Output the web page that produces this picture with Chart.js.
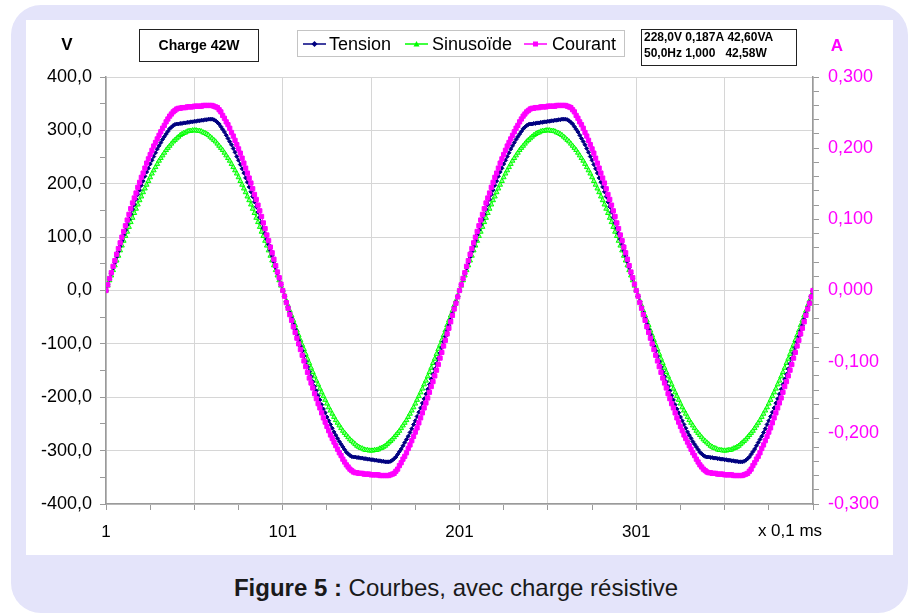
<!DOCTYPE html>
<html>
<head>
<meta charset="utf-8">
<script src="https://cdn.jsdelivr.net/npm/chart.js@4.4.1/dist/chart.umd.min.js"></script>
<style>
  html, body { margin: 0; padding: 0; background: #fff; }
  #frame { position: absolute; left: 11px; top: 5px; width: 897px; height: 608px; background: #e4e4fa; border-radius: 30px; }
  #panel { position: absolute; left: 26px; top: 20px; width: 867px; height: 535px; background: #fff; }
  #caption { position: absolute; left: 0; top: 574px; width: 912px; text-align: center;
             font: 24px "Liberation Sans", Arial, sans-serif; color: #1a1a1a; }
  #chart { position: absolute; left: 0; top: 0; }
</style>
</head>
<body>
<div id="frame"></div>
<div id="panel"></div>
<div id="caption"><b>Figure 5 :</b> Courbes, avec charge résistive</div>
<canvas id="chart" width="912" height="614"></canvas>
<script>
// x axis: sample index, 1 sample = 0.1 ms
var X_LABELS = [1, 101, 201, 301];

// Tension (V)
var TENSION = [0,
  11,21,32,42,52,63,73,83,93,104,113,123,133,143,152,161,171,180,188,197,205,214,222,229,237,
  244,251,258,265,271,277,283,288,293,298,303,306,309,311,312,312,313,313,314,314,315,315,316,316,317,
  317,318,318,319,319,320,320,321,321,321,320,318,315,312,307,302,297,291,285,279,273,266,259,251,244,
  236,228,220,211,203,194,185,176,166,157,147,137,127,117,107,96,86,75,65,54,43,32,22,11,0,
  -11,-21,-32,-42,-52,-63,-73,-83,-93,-104,-113,-123,-133,-143,-152,-161,-171,-180,-188,-197,-205,-214,-222,-229,-237,
  -244,-251,-258,-265,-271,-277,-283,-288,-293,-298,-303,-306,-309,-311,-312,-312,-313,-313,-314,-314,-315,-315,-316,-316,-317,
  -317,-318,-318,-319,-319,-320,-320,-321,-321,-321,-320,-318,-315,-312,-307,-302,-297,-291,-285,-279,-273,-266,-259,-251,-244,
  -236,-228,-220,-211,-203,-194,-185,-176,-166,-157,-147,-137,-127,-117,-107,-96,-86,-75,-65,-54,-43,-32,-22,-11,0,
  11,21,32,42,52,63,73,83,93,104,113,123,133,143,152,161,171,180,188,197,205,214,222,229,237,
  244,251,258,265,271,277,283,288,293,298,303,306,309,311,312,312,313,313,314,314,315,315,316,316,317,
  317,318,318,319,319,320,320,321,321,321,320,318,315,312,307,302,297,291,285,279,273,266,259,251,244,
  236,228,220,211,203,194,185,176,166,157,147,137,127,117,107,96,86,75,65,54,43,32,22,11,0,
  -11,-21,-32,-42,-52,-63,-73,-83,-93,-104,-113,-123,-133,-143,-152,-161,-171,-180,-188,-197,-205,-214,-222,-229,-237,
  -244,-251,-258,-265,-271,-277,-283,-288,-293,-298,-303,-306,-309,-311,-312,-312,-313,-313,-314,-314,-315,-315,-316,-316,-317,
  -317,-318,-318,-319,-319,-320,-320,-321,-321,-321,-320,-318,-315,-312,-307,-302,-297,-291,-285,-279,-273,-266,-259,-251,-244,
  -236,-228,-220,-211,-203,-194,-185,-176,-166,-157,-147,-137,-127,-117,-107,-96,-86,-75,-65,-54,-43,-32,-22,-11,0
];

// Sinusoïde de référence (V), green curve
var SINUSOIDE = [0,
  9,19,28,38,47,56,65,75,84,93,102,110,119,128,136,145,153,161,169,176,184,191,198,205,212,
  219,225,231,237,243,248,253,258,263,267,271,275,279,282,285,288,291,293,295,296,298,299,299,300,300,
  300,299,299,298,296,295,293,291,288,285,282,279,275,271,267,263,258,253,248,243,237,231,225,219,212,
  205,198,191,184,176,169,161,153,145,136,128,119,110,102,93,84,75,65,56,47,38,28,19,9,0,
  -9,-19,-28,-38,-47,-56,-65,-75,-84,-93,-102,-110,-119,-128,-136,-145,-153,-161,-169,-176,-184,-191,-198,-205,-212,
  -219,-225,-231,-237,-243,-248,-253,-258,-263,-267,-271,-275,-279,-282,-285,-288,-291,-293,-295,-296,-298,-299,-299,-300,-300,
  -300,-299,-299,-298,-296,-295,-293,-291,-288,-285,-282,-279,-275,-271,-267,-263,-258,-253,-248,-243,-237,-231,-225,-219,-212,
  -205,-198,-191,-184,-176,-169,-161,-153,-145,-136,-128,-119,-110,-102,-93,-84,-75,-65,-56,-47,-38,-28,-19,-9,0,
  9,19,28,38,47,56,65,75,84,93,102,110,119,128,136,145,153,161,169,176,184,191,198,205,212,
  219,225,231,237,243,248,253,258,263,267,271,275,279,282,285,288,291,293,295,296,298,299,299,300,300,
  300,299,299,298,296,295,293,291,288,285,282,279,275,271,267,263,258,253,248,243,237,231,225,219,212,
  205,198,191,184,176,169,161,153,145,136,128,119,110,102,93,84,75,65,56,47,38,28,19,9,0,
  -9,-19,-28,-38,-47,-56,-65,-75,-84,-93,-102,-110,-119,-128,-136,-145,-153,-161,-169,-176,-184,-191,-198,-205,-212,
  -219,-225,-231,-237,-243,-248,-253,-258,-263,-267,-271,-275,-279,-282,-285,-288,-291,-293,-295,-296,-298,-299,-299,-300,-300,
  -300,-299,-299,-298,-296,-295,-293,-291,-288,-285,-282,-279,-275,-271,-267,-263,-258,-253,-248,-243,-237,-231,-225,-219,-212,
  -205,-198,-191,-184,-176,-169,-161,-153,-145,-136,-128,-119,-110,-102,-93,-84,-75,-65,-56,-47,-38,-28,-19,-9,0
];

// Courant (A), magenta curve on the right axis
var COURANT = [0,
  0.008,0.017,0.025,0.034,0.042,0.051,0.059,0.067,0.075,0.083,0.091,0.099,0.107,0.115,0.123,0.130,0.137,0.145,0.152,0.159,0.165,0.172,0.179,0.185,0.191,
  0.197,0.203,0.208,0.213,0.218,0.223,0.228,0.232,0.237,0.241,0.245,0.248,0.251,0.253,0.255,0.256,0.256,0.257,0.257,0.257,0.258,0.258,0.258,0.258,0.259,
  0.259,0.259,0.259,0.259,0.260,0.260,0.260,0.260,0.260,0.260,0.259,0.258,0.257,0.254,0.251,0.246,0.242,0.237,0.233,0.228,0.222,0.217,0.211,0.205,0.199,
  0.193,0.186,0.179,0.172,0.165,0.158,0.151,0.143,0.135,0.128,0.120,0.112,0.104,0.095,0.087,0.078,0.070,0.061,0.053,0.044,0.035,0.026,0.018,0.009,0.000,
  -0.008,-0.017,-0.025,-0.034,-0.042,-0.051,-0.059,-0.067,-0.075,-0.083,-0.091,-0.099,-0.107,-0.115,-0.123,-0.130,-0.137,-0.145,-0.152,-0.159,-0.165,-0.172,-0.179,-0.185,-0.191,
  -0.197,-0.203,-0.208,-0.213,-0.218,-0.223,-0.228,-0.232,-0.237,-0.241,-0.245,-0.248,-0.251,-0.253,-0.255,-0.256,-0.256,-0.257,-0.257,-0.257,-0.258,-0.258,-0.258,-0.258,-0.259,
  -0.259,-0.259,-0.259,-0.259,-0.260,-0.260,-0.260,-0.260,-0.260,-0.260,-0.259,-0.258,-0.257,-0.254,-0.251,-0.246,-0.242,-0.237,-0.233,-0.228,-0.222,-0.217,-0.211,-0.205,-0.199,
  -0.193,-0.186,-0.179,-0.172,-0.165,-0.158,-0.151,-0.143,-0.135,-0.128,-0.120,-0.112,-0.104,-0.095,-0.087,-0.078,-0.070,-0.061,-0.053,-0.044,-0.035,-0.026,-0.018,-0.009,0.000,
  0.008,0.017,0.025,0.034,0.042,0.051,0.059,0.067,0.075,0.083,0.091,0.099,0.107,0.115,0.123,0.130,0.137,0.145,0.152,0.159,0.165,0.172,0.179,0.185,0.191,
  0.197,0.203,0.208,0.213,0.218,0.223,0.228,0.232,0.237,0.241,0.245,0.248,0.251,0.253,0.255,0.256,0.256,0.257,0.257,0.257,0.258,0.258,0.258,0.258,0.259,
  0.259,0.259,0.259,0.259,0.260,0.260,0.260,0.260,0.260,0.260,0.259,0.258,0.257,0.254,0.251,0.246,0.242,0.237,0.233,0.228,0.222,0.217,0.211,0.205,0.199,
  0.193,0.186,0.179,0.172,0.165,0.158,0.151,0.143,0.135,0.128,0.120,0.112,0.104,0.095,0.087,0.078,0.070,0.061,0.053,0.044,0.035,0.026,0.018,0.009,0.000,
  -0.008,-0.017,-0.025,-0.034,-0.042,-0.051,-0.059,-0.067,-0.075,-0.083,-0.091,-0.099,-0.107,-0.115,-0.123,-0.130,-0.137,-0.145,-0.152,-0.159,-0.165,-0.172,-0.179,-0.185,-0.191,
  -0.197,-0.203,-0.208,-0.213,-0.218,-0.223,-0.228,-0.232,-0.237,-0.241,-0.245,-0.248,-0.251,-0.253,-0.255,-0.256,-0.256,-0.257,-0.257,-0.257,-0.258,-0.258,-0.258,-0.258,-0.259,
  -0.259,-0.259,-0.259,-0.259,-0.260,-0.260,-0.260,-0.260,-0.260,-0.260,-0.259,-0.258,-0.257,-0.254,-0.251,-0.246,-0.242,-0.237,-0.233,-0.228,-0.222,-0.217,-0.211,-0.205,-0.199,
  -0.193,-0.186,-0.179,-0.172,-0.165,-0.158,-0.151,-0.143,-0.135,-0.128,-0.120,-0.112,-0.104,-0.095,-0.087,-0.078,-0.070,-0.061,-0.053,-0.044,-0.035,-0.026,-0.018,-0.009,0.000
];

var FONT = '"Liberation Sans", Arial, sans-serif';
var GRID = '#d6d6d6';
var AXIS = '#9a9a9a';
var NAVY = '#000080';
var GREEN = '#00ff00';
var MAGENTA = '#ff00ff';

Chart.defaults.font.family = FONT;

function toPoints(values) {
  return values.map(function (v, i) { return { x: i + 1, y: v }; });
}

function comma(v, digits) {
  var f = Math.pow(10, digits);
  var r = Math.round(v * f);
  if (r === 0) r = 0;
  return (r / f).toFixed(digits).replace('.', ',');
}

function drawMarker(ctx, style, x, y, r, color) {
  ctx.fillStyle = color;
  ctx.beginPath();
  if (style === 'rectRot') {
    ctx.moveTo(x, y - r); ctx.lineTo(x + r, y); ctx.lineTo(x, y + r); ctx.lineTo(x - r, y);
  } else if (style === 'triangle') {
    ctx.moveTo(x, y - r); ctx.lineTo(x + r, y + r * 0.8); ctx.lineTo(x - r, y + r * 0.8);
  } else {
    ctx.rect(x - r, y - r, 2 * r, 2 * r);
  }
  ctx.closePath();
  ctx.fill();
}

// legend entries: [line start, text start]
var LEGEND_POS = [[303, 329], [405, 432], [524, 552]];

var decorPlugin = {
  id: 'decor',
  afterDraw: function (chart) {
    var ctx = chart.ctx;
    ctx.save();
    ctx.textBaseline = 'middle';

    // unit labels
    ctx.font = 'bold 17px ' + FONT;
    ctx.textAlign = 'center';
    ctx.fillStyle = '#000';
    ctx.fillText('V', 67, 45);
    ctx.fillStyle = MAGENTA;
    ctx.fillText('A', 837, 46);
    ctx.fillStyle = '#000';
    ctx.font = '17px ' + FONT;
    ctx.fillText('x 0,1 ms', 790, 531);

    // "Charge 42W" box
    ctx.fillStyle = '#fff';
    ctx.fillRect(139.5, 29.5, 119, 32);
    ctx.strokeStyle = '#222';
    ctx.lineWidth = 1;
    ctx.strokeRect(139.5, 29.5, 119, 32);
    ctx.fillStyle = '#000';
    ctx.font = 'bold 14px ' + FONT;
    ctx.fillText('Charge 42W', 199, 46);

    // measurement box
    ctx.fillStyle = '#fff';
    ctx.fillRect(641.5, 29.5, 155, 36);
    ctx.strokeRect(641.5, 29.5, 155, 36);
    ctx.fillStyle = '#000';
    ctx.font = 'bold 12px ' + FONT;
    ctx.textAlign = 'left';
    ctx.fillText('228,0V 0,187A 42,60VA', 644, 38);
    ctx.fillText('50,0Hz 1,000   42,58W', 644, 54);

    // legend
    ctx.fillStyle = '#fff';
    ctx.fillRect(297.5, 30.5, 327, 26);
    ctx.strokeStyle = '#c4c4c4';
    ctx.strokeRect(297.5, 30.5, 327, 26);
    ctx.font = '18px ' + FONT;
    [0, 1, 2].forEach(function (i) {
      var ds = chart.data.datasets[i];
      var p = LEGEND_POS[i];
      var y = 44;
      ctx.strokeStyle = ds.borderColor;
      ctx.lineWidth = 1.5;
      ctx.beginPath();
      ctx.moveTo(p[0], y);
      ctx.lineTo(p[0] + 23, y);
      ctx.stroke();
      drawMarker(ctx, ds.pointStyle, p[0] + 11.5, y, ds.pointStyle === 'rect' ? 2.5 : 3, ds.borderColor);
      ctx.fillStyle = '#000';
      ctx.fillText(ds.label, p[1], y + 1);
    });
    ctx.restore();
  }
};

new Chart(document.getElementById('chart'), {
  type: 'line',
  data: {
    datasets: [{
      label: 'Tension',
      data: toPoints(TENSION),
      borderColor: NAVY,
      backgroundColor: NAVY,
      borderWidth: 1,
      pointStyle: 'rectRot',
      pointRadius: 2,
      pointBorderWidth: 1,
      yAxisID: 'y',
      order: 1,
    }, {
      label: 'Sinusoïde',
      data: toPoints(SINUSOIDE),
      borderColor: GREEN,
      backgroundColor: '#8cff8c',
      borderWidth: 1,
      pointStyle: 'triangle',
      pointRadius: 2.8,
      pointBorderWidth: 1,
      yAxisID: 'y',
      order: 2,
    }, {
      label: 'Courant',
      data: toPoints(COURANT),
      borderColor: MAGENTA,
      backgroundColor: MAGENTA,
      borderWidth: 1,
      pointStyle: 'rect',
      pointRadius: 3,
      pointBorderWidth: 1,
      yAxisID: 'y1',
      order: 0,
    }],
  },
  options: {
    responsive: false,
    animation: false,
    layout: { padding: { top: 77, left: 0, right: 0, bottom: 0 } },
    plugins: { legend: { display: false }, tooltip: { enabled: false } },
    scales: {
      x: {
        type: 'linear',
        min: 1,
        max: 401,
        ticks: {
          stepSize: 25,
          autoSkip: false,
          maxRotation: 0,
          padding: 12,
          color: '#000',
          font: { size: 17 },
          callback: function (v) { return X_LABELS.indexOf(Math.round(v)) >= 0 ? String(Math.round(v)) : ''; },
        },
        grid: {
          color: function (c) { return c.tick && (Math.round(c.tick.value) - 1) % 50 === 0 ? GRID : 'rgba(0,0,0,0)'; },
          tickColor: AXIS,
          tickLength: 6,
        },
        border: { color: AXIS, width: 1.5 },
        afterFit: function (s) { s.height = 110; },
      },
      y: {
        position: 'left',
        min: -400,
        max: 400,
        ticks: {
          stepSize: 50,
          autoSkip: false,
          maxTicksLimit: 100,
          padding: 8,
          color: '#000',
          font: { size: 18 },
          callback: function (v) { return v % 100 === 0 ? comma(v, 1) : ''; },
        },
        grid: {
          color: function (c) { return c.tick && c.tick.value % 100 === 0 ? GRID : 'rgba(0,0,0,0)'; },
          tickColor: AXIS,
          tickLength: 6,
        },
        border: { color: AXIS, width: 1.5 },
        afterFit: function (s) { s.width = 106; },
      },
      y1: {
        position: 'right',
        min: -0.3,
        max: 0.3,
        ticks: {
          stepSize: 0.02,
          autoSkip: false,
          maxTicksLimit: 100,
          padding: 9,
          color: MAGENTA,
          font: { size: 18 },
          callback: function (v) { return Math.round(v * 100) % 10 === 0 ? comma(v, 3) : ''; },
        },
        grid: { drawOnChartArea: false, tickColor: AXIS, tickLength: 6 },
        border: { color: AXIS, width: 1.5 },
        afterFit: function (s) { s.width = 99; },
      },
    },
  },
  plugins: [decorPlugin],
});
</script>
</body>
</html>
